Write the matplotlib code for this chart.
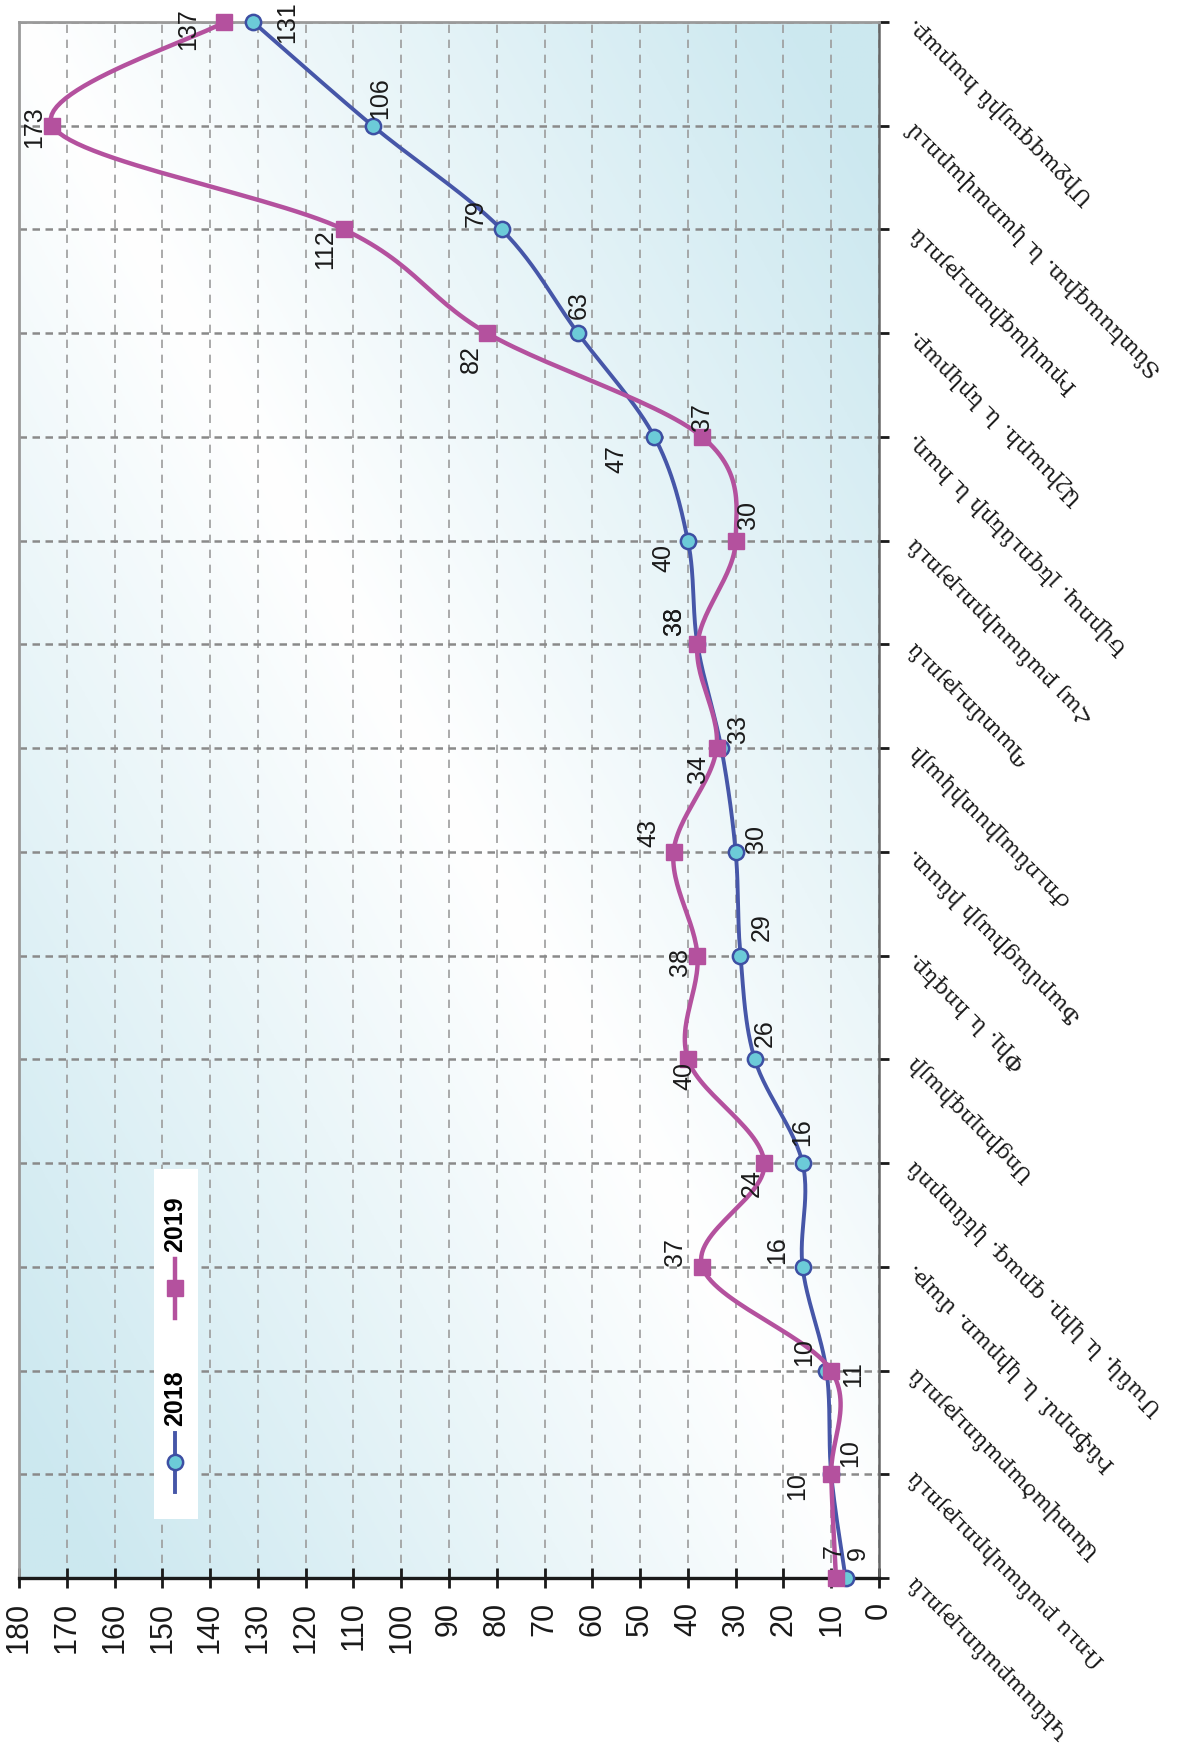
import numpy as np
import matplotlib.pyplot as plt
from matplotlib.patches import Rectangle

# categories from bottom to top
faculties = ["Կենսաբանություն", "Ռուս բանասիրություն", "Աստվածաբանություն",
             "Ինֆորմ. և կիրառ. մաթ.", "Մանկ. և կիր. գրագ. կենտրոն", "Սոցիոլոգիայի",
             "Փիլ. և հոգեբ.", "Ֆարմացիայի ինստ.", "Ժուռնալիստիկայի", "Պատմություն",
             "Հայ բանասիրություն", "Եվրոպ. լեզուների և հաղ.", "Աշխարհ. և երկրաբ.",
             "Իրավագիտություն", "Տնտեսագիտ. և կառավարում", "Միջազգային հարաբ."]
vals_2018 = [7, 10, 11, 16, 16, 26, 29, 30, 33, 38, 40, 47, 63, 79, 106, 131]
vals_2019 = [9, 10, 10, 37, 24, 40, 38, 43, 34, 38, 30, 37, 82, 112, 173, 137]
value_ticks = list(range(0, 181, 10))

# label offsets in pixels (screen x, screen y down)
off_2018 = [(-12, -27), (19, -21), (27, 4), (-25, -17), (0, -31), (10, -26), (21, -28), (20, -13),
            (17, -19), (-23, -23), (-25, 17), (-38, 22), (1, -28), (-26, -16), (8, -28), (34, 0)]
off_2019 = [(22, -25), (-34, 12), (-27, -18), (-27, -15), (-13, 20), (-4, 17), (-17, 6), (-25, -19),
            (-19, 21), (-23, -23), (12, -26), (0, -20), (-16, 26), (-19, 20), (-18, 1), (-36, 7)]

W, H = 1181, 1753
fig = plt.figure(figsize=(W / 100, H / 100), dpi=100)
x0, x1, ytop, ybot = 19, 879, 22, 1578
ax = fig.add_axes([x0 / W, (H - ybot) / H, (x1 - x0) / W, (ybot - ytop) / H])

n = len(faculties)
ax.set_xlim(180, 0)
ax.set_ylim(0, n - 1)

# background gradient: white on the diagonal, cyan towards two corners
u = np.linspace(0, 1, 300)[None, :]
v = np.linspace(0, 1, 300)[:, None]
k = np.clip(np.abs(u - v) * 1.1, 0, 1)
cyan = np.array([0.80, 0.91, 0.94])
img = (1 - k)[..., None] * np.array([1.0, 1.0, 1.0]) + k[..., None] * cyan
ax.imshow(img, extent=[180, 0, 0, n - 1], aspect='auto', zorder=0, origin='upper')


def smooth(vals, sx, sy, steps=30):
    P = np.column_stack([np.asarray(vals, float) * sx, np.arange(len(vals)) * sy])
    out = [P[0]]
    t = np.linspace(0, 1, steps)[1:, None]
    for i in range(len(P) - 1):
        p0 = P[i - 1] if i > 0 else P[i]
        p3 = P[i + 2] if i + 2 < len(P) else P[i + 1]
        c1 = P[i] + (P[i + 1] - p0) / 6
        c2 = P[i + 1] - (p3 - P[i]) / 6
        seg = (1 - t) ** 3 * P[i] + 3 * (1 - t) ** 2 * t * c1 + 3 * (1 - t) * t ** 2 * c2 + t ** 3 * P[i + 1]
        out.extend(seg)
    out = np.array(out)
    return out[:, 0] / sx, out[:, 1] / sy


sx = (x1 - x0) / 180
sy = (ybot - ytop) / (n - 1)
idx = np.arange(n)

blue = '#4656a8'
mag = '#b4519e'
bx, by = smooth(vals_2018, sx, sy)
ax.plot(bx, by, color=blue, lw=2.8, zorder=3, solid_capstyle='round')
ax.plot(vals_2018, idx, 'o', ms=11, mfc='#6ccbd8', mec='#3d4fa3', mew=1.8, zorder=4, clip_on=False)
mx, my = smooth(vals_2019, sx, sy)
ax.plot(mx, my, color=mag, lw=3.2, zorder=5, solid_capstyle='round')
ax.plot(vals_2019, idx, 's', ms=12, color=mag, zorder=6, clip_on=False)

for vals, offs in ((vals_2018, off_2018), (vals_2019, off_2019)):
    for i, (val, (dx, dy)) in enumerate(zip(vals, offs)):
        ax.annotate(str(val), (val, i), xytext=(dx, -dy), textcoords='offset pixels',
                    rotation=90, ha='center', va='center', fontsize=18,
                    family='Liberation Sans', color='#1a1a1a', zorder=7, annotation_clip=False)

# grid
ax.set_xticks(value_ticks)
ax.set_yticks(idx)
ax.xaxis.grid(True, color='#9c9c9c', lw=1.2, ls=(0, (5, 4)), zorder=1)
ax.yaxis.grid(True, color='#8a8a8a', lw=1.8, ls=(0, (3, 2.2)), zorder=1)
ax.set_axisbelow(True)

ax.set_xticklabels([str(t) for t in value_ticks], rotation=90, fontsize=22,
                   family='Liberation Sans', color='#1a1a1a')
ax.tick_params(axis='x', direction='inout', length=14, width=2, color='#1a1a1a', pad=10)

ax.yaxis.tick_right()
ax.set_yticklabels(faculties, rotation=135, rotation_mode='anchor', ha='right', va='center',
                   fontsize=16, family=['DejaVu Serif', 'DejaVu Sans'], color='#1a1a1a')
ax.tick_params(axis='y', direction='out', length=7, width=2, color='#1a1a1a', pad=16)

for side in ('left', 'top'):
    ax.spines[side].set_color('#9a9a9a')
    ax.spines[side].set_linewidth(2)
ax.spines['bottom'].set_color('#1a1a1a')
ax.spines['bottom'].set_linewidth(2.4)
ax.spines['right'].set_color('#666666')
ax.spines['right'].set_linewidth(1.8)

# legend (rotated like the chart)
ax.add_patch(Rectangle((0.157, 0.038), 0.051, 0.225, transform=ax.transAxes,
                       facecolor='white', edgecolor='none', zorder=8))
lx = 0.1816
ax.plot([lx, lx], [0.0553, 0.0932], color=blue, lw=2.8, transform=ax.transAxes, zorder=9)
ax.plot([lx], [0.0746], 'o', ms=11, mfc='#6ccbd8', mec='#3d4fa3', mew=1.8,
        transform=ax.transAxes, zorder=10)
ax.text(lx, 0.1157, '2018', rotation=90, ha='center', va='center', fontsize=18,
        fontweight='bold', family='Liberation Sans', transform=ax.transAxes, zorder=10)
ax.plot([lx, lx], [0.1671, 0.2050], color=mag, lw=3.2, transform=ax.transAxes, zorder=9)
ax.plot([lx], [0.1864], 's', ms=12, color=mag, transform=ax.transAxes, zorder=10)
ax.text(lx, 0.2275, '2019', rotation=90, ha='center', va='center', fontsize=18,
        fontweight='bold', family='Liberation Sans', transform=ax.transAxes, zorder=10)

fig.savefig('out.png', dpi=100)
